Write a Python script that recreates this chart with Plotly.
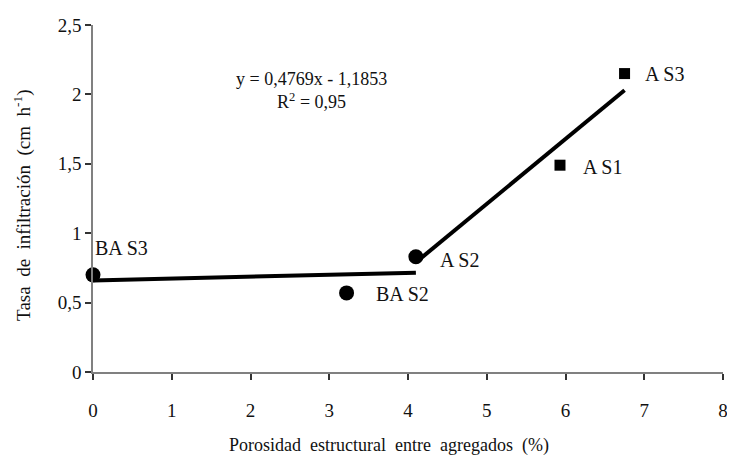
import plotly.graph_objects as go

# Data
circle_labels = ["BA S3", "BA S2", "A S2"]
circle_x = [0.0, 3.22, 4.1]
circle_y = [0.70, 0.57, 0.83]

square_labels = ["A S1", "A S3"]
square_x = [5.93, 6.75]
square_y = [1.49, 2.15]

# trend lines (endpoints)
line1_x = [0.0, 4.1]
line1_y = [0.66, 0.715]
line2_x = [4.1, 6.75]
line2_y = [0.79, 2.03]

# label positions (left edge of text)
label_text = ["BA S3", "BA S2", "A S2", "A S1", "A S3"]
label_x = [0.0, 3.57, 4.38, 6.2, 6.99]
label_y = [0.89, 0.56, 0.81, 1.48, 2.15]

x_ticks = [0, 1, 2, 3, 4, 5, 6, 7, 8]
y_ticks = [0, 0.5, 1, 1.5, 2, 2.5]

FONT = "Liberation Serif"

fig = go.Figure()
fig.add_trace(go.Scatter(x=line1_x, y=line1_y, mode="lines",
                         line=dict(color="black", width=4), showlegend=False))
fig.add_trace(go.Scatter(x=line2_x, y=line2_y, mode="lines",
                         line=dict(color="black", width=4), showlegend=False))
fig.add_trace(go.Scatter(x=circle_x, y=circle_y, mode="markers",
                         marker=dict(symbol="circle", size=15, color="black"),
                         showlegend=False, cliponaxis=False))
fig.add_trace(go.Scatter(x=square_x, y=square_y, mode="markers",
                         marker=dict(symbol="square", size=11, color="black"),
                         showlegend=False, cliponaxis=False))

for t, x, y in zip(label_text, label_x, label_y):
    fig.add_annotation(x=x, y=y, text=t, showarrow=False, xanchor="left",
                       yanchor="middle", font=dict(family=FONT, size=20, color="#111"))

fig.add_annotation(x=2.78, y=2.03, text="y = 0,4769x - 1,1853<br>R<sup>2</sup> = 0,95",
                   showarrow=False, xanchor="center", yanchor="middle",
                   font=dict(family=FONT, size=18, color="#111"))

# axis titles
fig.add_annotation(xref="paper", yref="paper", x=0.47, y=-0.213,
                   text="Porosidad  estructural  entre  agregados  (%)",
                   showarrow=False, xanchor="center", yanchor="middle",
                   font=dict(family=FONT, size=18, color="#111"))
fig.add_annotation(xref="paper", yref="paper", x=-0.112, y=0.48,
                   text="Tasa  de  infiltración  (cm  h<sup>-1</sup>)", textangle=-90,
                   showarrow=False, xanchor="center", yanchor="middle",
                   font=dict(family=FONT, size=19, color="#111"))

# the page body adds an 8px offset, so the figure is sized to fit the window
fig.update_layout(
    width=727, height=456,
    margin=dict(l=85, r=12, t=17, b=92),
    paper_bgcolor="white", plot_bgcolor="white",
    separators=",.",
    font=dict(family=FONT, size=19, color="#111"),
    xaxis=dict(range=[0, 8], tickvals=x_ticks, showgrid=False, zeroline=False,
               showline=True, linecolor="#808080", linewidth=1.5,
               ticks="outside", ticklen=6, tickcolor="#333", tickwidth=1.5,
               ticklabelstandoff=14, automargin=False, ticklabeloverflow="allow"),
    yaxis=dict(range=[0, 2.5], tickvals=y_ticks, showgrid=False, zeroline=False,
               showline=True, linecolor="#808080", linewidth=1.5,
               ticks="outside", ticklen=6, tickcolor="#333", tickwidth=1.5,
               automargin=False, ticklabeloverflow="allow"),
)

fig.write_html("out.html")
